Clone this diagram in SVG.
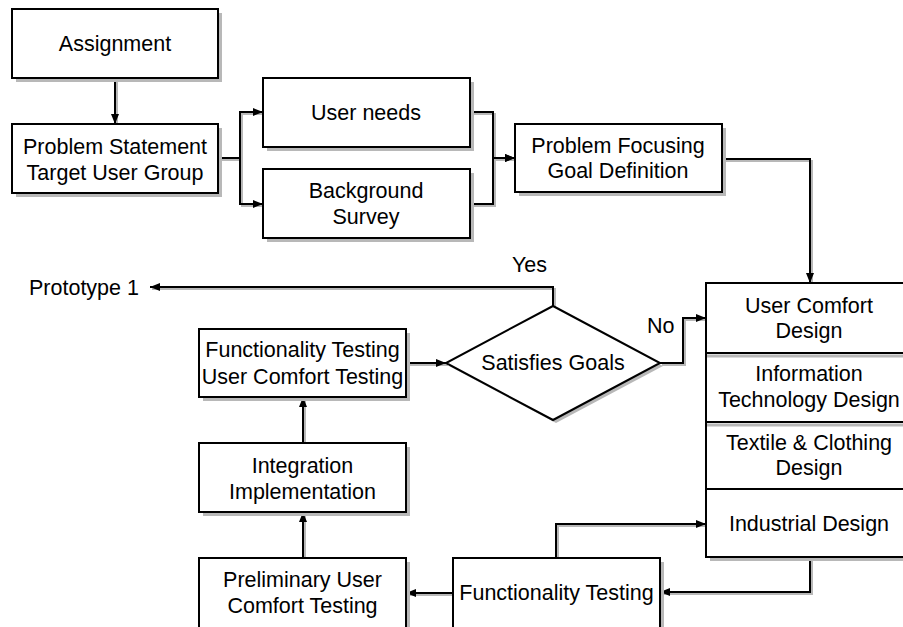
<svg xmlns="http://www.w3.org/2000/svg" xmlns:xlink="http://www.w3.org/1999/xlink" width="903" height="627" viewBox="0 0 903 627">
  <style>
    .box { fill: #ffffff; stroke: #000000; stroke-width: 2; }
    .shadow { fill: #b8b8b8; stroke: none; }
    .div { stroke: #000000; stroke-width: 2; fill: none; }
    .divshadow { stroke: #b8b8b8; stroke-width: 3; fill: none; }
    .lbl { font-family: "Liberation Sans", Arial, sans-serif; font-size: 21.5px; fill: #000000; text-anchor: middle; }
    .free { font-family: "Liberation Sans", Arial, sans-serif; font-size: 21.5px; fill: #000000; }
    .wire { fill: none; stroke: #000000; stroke-width: 2; }
    .wireshadow { fill: none; stroke: #b8b8b8; stroke-width: 2; }
  </style>
  <defs>
    <marker id="arrow" markerUnits="userSpaceOnUse" markerWidth="10" markerHeight="8" refX="10" refY="4" orient="auto">
      <path d="M0,0 L10,4 L0,8 z" fill="#000000"/>
    </marker>
    <path id="c1" d="M115,78 V124"/>
    <path id="c2" d="M218,158 H240 V112 H263"/>
    <path id="c3" d="M218,158 H240 V204 H263"/>
    <path id="c4" d="M470,112 H493 V158 H515"/>
    <path id="c5" d="M470,204 H493 V158 H515"/>
    <path id="c6" d="M722,159 H810 V283"/>
    <path id="c7" d="M553,306 V287 H150"/>
    <path id="c8" d="M660,363 H683 V318 H706"/>
    <path id="c9" d="M406,363 H446"/>
    <path id="c10" d="M303,443 V397"/>
    <path id="c11" d="M303,558 V512"/>
    <path id="c12" d="M453,593 H406"/>
    <path id="c13" d="M810,557 V592 H660"/>
    <path id="c14" d="M556,558 V524 H706"/>
  </defs>

  <!-- connectors: soft offset shadow first, then the black lines with arrowheads -->
  <g id="connectors">
    <g class="wireshadow" transform="translate(2,2)">
      <use xlink:href="#c1"/><use xlink:href="#c2"/><use xlink:href="#c3"/><use xlink:href="#c4"/>
      <use xlink:href="#c5"/><use xlink:href="#c6"/><use xlink:href="#c7"/><use xlink:href="#c8"/>
      <use xlink:href="#c9"/><use xlink:href="#c10"/><use xlink:href="#c11"/><use xlink:href="#c12"/>
      <use xlink:href="#c13"/><use xlink:href="#c14"/>
    </g>
    <g class="wire">
      <path d="M115,78 V124" marker-end="url(#arrow)"/>
      <path d="M218,158 H240 V112 H263" marker-end="url(#arrow)"/>
      <path d="M218,158 H240 V204 H263" marker-end="url(#arrow)"/>
      <path d="M470,112 H493 V158 H515" marker-end="url(#arrow)"/>
      <path d="M470,204 H493 V158 H515" marker-end="url(#arrow)"/>
      <path d="M722,159 H810 V283" marker-end="url(#arrow)"/>
      <path d="M553,306 V287 H150" marker-end="url(#arrow)"/>
      <path d="M660,363 H683 V318 H706" marker-end="url(#arrow)"/>
      <path d="M406,363 H446" marker-end="url(#arrow)"/>
      <path d="M303,443 V397" marker-end="url(#arrow)"/>
      <path d="M303,558 V512" marker-end="url(#arrow)"/>
      <path d="M453,593 H406" marker-end="url(#arrow)"/>
      <path d="M810,557 V592 H660" marker-end="url(#arrow)"/>
      <path d="M556,558 V524 H706" marker-end="url(#arrow)"/>
    </g>
    <text class="free" x="512" y="272">Yes</text>
    <text class="free" x="647" y="333">No</text>
  </g>

  <g id="assignment">
    <rect class="shadow" x="16" y="13" width="206" height="69"/>
    <rect class="box" x="12" y="9" width="206" height="69"/>
    <text class="lbl" x="115" y="51">Assignment</text>
  </g>

  <g id="problem-statement">
    <rect class="shadow" x="16" y="128" width="206" height="69"/>
    <rect class="box" x="12" y="124" width="206" height="69"/>
    <text class="lbl" x="115" y="154">Problem Statement</text>
    <text class="lbl" x="115" y="180">Target User Group</text>
  </g>

  <g id="user-needs">
    <rect class="shadow" x="267" y="82" width="207" height="69"/>
    <rect class="box" x="263" y="78" width="207" height="69"/>
    <text class="lbl" x="366" y="120">User needs</text>
  </g>

  <g id="background-survey">
    <rect class="shadow" x="267" y="173" width="207" height="69"/>
    <rect class="box" x="263" y="169" width="207" height="69"/>
    <text class="lbl" x="366" y="198">Background</text>
    <text class="lbl" x="366" y="224">Survey</text>
  </g>

  <g id="problem-focusing">
    <rect class="shadow" x="519" y="128" width="207" height="68"/>
    <rect class="box" x="515" y="124" width="207" height="68"/>
    <text class="lbl" x="618" y="153">Problem Focusing</text>
    <text class="lbl" x="618" y="178">Goal Definition</text>
  </g>

  <g id="prototype">
    <text class="free" x="29" y="295">Prototype 1</text>
  </g>

  <g id="satisfies-goals">
    <polygon class="shadow" points="556,309 663,366 556,423 449,366"/>
    <polygon class="box" points="553,306 660,363 553,420 446,363"/>
    <text class="lbl" x="553" y="370">Satisfies Goals</text>
  </g>

  <g id="design-stack">
    <rect class="shadow" x="710" y="287" width="208" height="274"/>
    <rect class="box" x="706" y="283" width="208" height="274"/>
    <line class="divshadow" x1="707" y1="356" x2="914" y2="356"/>
    <line class="divshadow" x1="707" y1="425" x2="914" y2="425"/>
    <line class="div" x1="706" y1="353" x2="914" y2="353"/>
    <line class="div" x1="706" y1="422" x2="914" y2="422"/>
    <line class="div" x1="706" y1="489" x2="914" y2="489"/>
    <text class="lbl" x="809" y="313">User Comfort</text>
    <text class="lbl" x="809" y="338">Design</text>
    <text class="lbl" x="809" y="381">Information</text>
    <text class="lbl" x="809" y="407">Technology Design</text>
    <text class="lbl" x="809" y="450">Textile &amp; Clothing</text>
    <text class="lbl" x="809" y="475">Design</text>
    <text class="lbl" x="809" y="531">Industrial Design</text>
  </g>

  <g id="functionality-comfort-testing">
    <rect class="shadow" x="203" y="333" width="207" height="68"/>
    <rect class="box" x="199" y="329" width="207" height="68"/>
    <text class="lbl" x="302.5" y="357">Functionality Testing</text>
    <text class="lbl" x="302.5" y="384">User Comfort Testing</text>
  </g>

  <g id="integration">
    <rect class="shadow" x="203" y="447" width="207" height="69"/>
    <rect class="box" x="199" y="443" width="207" height="69"/>
    <text class="lbl" x="302.5" y="473">Integration</text>
    <text class="lbl" x="302.5" y="499">Implementation</text>
  </g>

  <g id="preliminary-testing">
    <rect class="shadow" x="203" y="562" width="207" height="72"/>
    <rect class="box" x="199" y="558" width="207" height="72"/>
    <text class="lbl" x="302.5" y="587">Preliminary User</text>
    <text class="lbl" x="302.5" y="613">Comfort Testing</text>
  </g>

  <g id="functionality-testing">
    <rect class="shadow" x="457" y="562" width="207" height="72"/>
    <rect class="box" x="453" y="558" width="207" height="72"/>
    <text class="lbl" x="556.5" y="600">Functionality Testing</text>
  </g>
</svg>
